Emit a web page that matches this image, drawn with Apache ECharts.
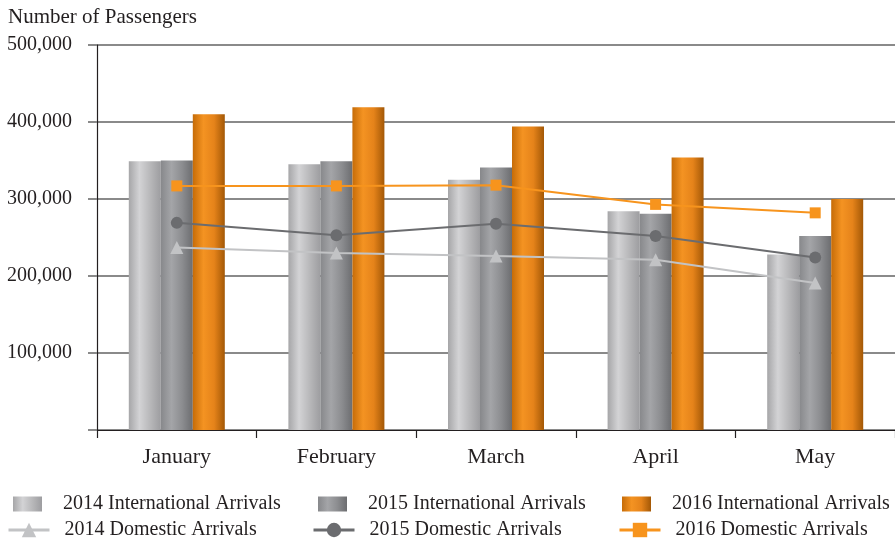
<!DOCTYPE html>
<html>
<head>
<meta charset="utf-8">
<script src="https://cdn.jsdelivr.net/npm/echarts@6/dist/echarts.min.js"></script>
<style>
  html, body { margin: 0; padding: 0; background: #fff; }
  #chart { width: 895px; height: 544px; }
</style>
</head>
<body>
<div id="chart"></div>
<script>
// 数据
var months = ['January', 'February', 'March', 'April', 'May'];
var int2014 = [349000, 345000, 325000, 284000, 228000];
var int2015 = [350000, 349000, 341000, 281000, 252000];
var int2016 = [410000, 419000, 394000, 354000, 300000];
var dom2014 = [237000, 230000, 226000, 221000, 191000];
var dom2015 = [269000, 253000, 268000, 252000, 224000];
var dom2016 = [317000, 317000, 318000, 293000, 282000];
var yTicks = [0, 100000, 200000, 300000, 400000, 500000];

var font = '"Liberation Serif", "DejaVu Serif", serif';

function grad(stops) {
  return new echarts.graphic.LinearGradient(0, 0, 1, 0, stops.map(function (c, i) {
    return { offset: i / (stops.length - 1), color: c };
  }));
}

var c2014 = grad(['#a6a6a8', '#d3d3d5', '#b8b8ba', '#9d9da0']);
var c2015 = grad(['#87888b', '#a4a5a8', '#8c8d90', '#6c6d70']);
var c2016 = grad(['#c66c08', '#f49322', '#e5831a', '#a35806']);

// 图例 — 每一项单独放置
function legendItem(name, left, top, isBar) {
  var item = {
    data: [name],
    left: left,
    top: top,
    padding: 0,
    itemWidth: isBar ? 29 : 41,
    itemHeight: isBar ? 15 : 18,
    selectedMode: false,
    textStyle: {
      fontFamily: font,
      fontSize: 20,
      color: '#231f20',
      padding: [0, 0, 0, isBar ? 16 : 10]
    }
  };
  if (isBar) item.icon = 'rect';
  else item.lineStyle = { width: 3 };
  return item;
}

var chart = echarts.init(document.getElementById('chart'));
chart.setOption({
  animation: false,
  textStyle: { fontFamily: font },
  title: {
    text: 'Number of Passengers',
    left: 3,
    top: 2,
    textStyle: { fontFamily: font, fontSize: 21, fontWeight: 'normal', color: '#231f20' }
  },
  legend: [
    legendItem('2014 International Arrivals', 13, 494, true),
    legendItem('2015 International Arrivals', 318, 494, true),
    legendItem('2016 International Arrivals', 622, 494, true),
    legendItem('2014 Domestic Arrivals', 7, 520, false),
    legendItem('2015 Domestic Arrivals', 312, 520, false),
    legendItem('2016 Domestic Arrivals', 618, 520, false)
  ],
  grid: { left: 97, right: -2, top: 45, bottom: 114, containLabel: false },
  xAxis: {
    type: 'category',
    data: months,
    axisLine: { lineStyle: { color: '#231f20', width: 1.2 } },
    axisTick: { show: true, length: 8, lineStyle: { color: '#231f20', width: 1.2 } },
    axisLabel: { fontFamily: font, fontSize: 22, color: '#231f20', margin: 16 }
  },
  yAxis: {
    type: 'value',
    min: yTicks[0],
    max: yTicks[yTicks.length - 1],
    interval: 100000,
    axisLine: { show: true, lineStyle: { color: '#231f20', width: 1.2 } },
    axisTick: { show: true, length: 9, lineStyle: { color: '#8a8a8a', width: 2 } },
    splitLine: { lineStyle: { color: '#8a8a8a', width: 2 } },
    axisLabel: {
      fontFamily: font, fontSize: 20, color: '#231f20', margin: 25,
      formatter: function (v) { return v === 0 ? '' : v.toLocaleString('en-US'); }
    }
  },
  series: [
    { name: '2014 International Arrivals', type: 'bar', data: int2014, barWidth: 32, barGap: '0%',
      itemStyle: { color: c2014 } },
    { name: '2015 International Arrivals', type: 'bar', data: int2015, barWidth: 32, barGap: '0%',
      itemStyle: { color: c2015 } },
    { name: '2016 International Arrivals', type: 'bar', data: int2016, barWidth: 32, barGap: '0%',
      itemStyle: { color: c2016 } },
    { name: '2014 Domestic Arrivals', type: 'line', data: dom2014, symbol: 'triangle', symbolSize: 13,
      lineStyle: { color: '#c2c3c5', width: 2 }, itemStyle: { color: '#c2c3c5' } },
    { name: '2015 Domestic Arrivals', type: 'line', data: dom2015, symbol: 'circle', symbolSize: 12,
      lineStyle: { color: '#6b6c6f', width: 2 }, itemStyle: { color: '#6b6c6f' } },
    { name: '2016 Domestic Arrivals', type: 'line', data: dom2016, symbol: 'rect', symbolSize: 11,
      lineStyle: { color: '#f7941d', width: 2 }, itemStyle: { color: '#f7941d' } }
  ]
});
</script>
</body>
</html>
